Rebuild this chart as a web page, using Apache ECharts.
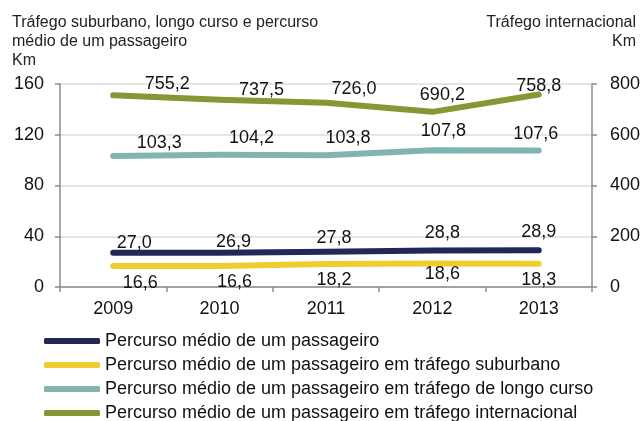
<!DOCTYPE html>
<html>
<head>
<meta charset="utf-8">
<script src="https://cdn.jsdelivr.net/npm/echarts@6/dist/echarts.min.js"></script>
<style>
  html, body { margin: 0; padding: 0; background: #fff; }
  #chart { width: 643px; height: 421px; }
</style>
</head>
<body>
<div id="chart"></div>
<script>
var anos = ['2009', '2010', '2011', '2012', '2013'];
var medio = [27.0, 26.9, 27.8, 28.8, 28.9];
var suburbano = [16.6, 16.6, 18.2, 18.6, 18.3];
var longoCurso = [103.3, 104.2, 103.8, 107.8, 107.6];
var internacional = [755.2, 737.5, 726.0, 690.2, 758.8];
var nomes = [
  'Percurso médio de um passageiro',
  'Percurso médio de um passageiro em tráfego suburbano',
  'Percurso médio de um passageiro em tráfego de longo curso',
  'Percurso médio de um passageiro em tráfego internacional'
];
var cores = ['#1f2858', '#f0cc2e', '#7fb4b3', '#8a9535'];

// deslocamento dos rótulos [dx, dy] como no original
var ajusteMedio = [[21, 5], [14, 4], [8, 1], [10, -3], [0, -4]];
var ajusteSuburbano = [[27, 3], [15, 2], [8, 2], [10, -4], [0, 2]];
var ajusteLongo = [[46, 2], [32, -2], [22, -3], [11, -5], [-3, -2]];
var ajusteInter = [[54, 3], [42, 5], [28, 1], [10, -2], [0, 6]];

var fonte = 'Liberation Sans, Arial, sans-serif';
var chart = echarts.init(document.getElementById('chart'));

function serie(i, dados, ajuste, eixo, pos) {
  return {
    name: nomes[i],
    type: 'line',
    yAxisIndex: eixo,
    data: dados,
    symbol: 'circle',
    symbolSize: 1,
    showSymbol: true,
    lineStyle: { color: cores[i], width: 6, cap: 'round', join: 'round' },
    itemStyle: { color: cores[i] },
    label: {
      show: true,
      position: pos,
      distance: 5,
      color: '#111',
      fontSize: 18,
      fontFamily: fonte,
      formatter: function (p) { return p.value.toFixed(1).replace('.', ','); }
    },
    labelLayout: function (p) {
      var a = ajuste[p.dataIndex];
      return { dx: a[0], dy: a[1], hideOverlap: false };
    }
  };
}

var eixoLinha = { show: true, lineStyle: { color: '#8c8c8c', width: 1.5 } };
var marcas = { show: true, length: 5, lineStyle: { color: '#8c8c8c', width: 1.5 } };

var option = {
  animation: false,
  graphic: [{
    type: 'text', x: 12, y: 13,
    style: {
      text: 'Tráfego suburbano, longo curso e percurso\nmédio de um passageiro\nKm',
      font: '16px ' + fonte, fill: '#222', lineHeight: 19
    }
  }, {
    type: 'text', x: 636, y: 13,
    style: {
      text: 'Tráfego internacional\nKm',
      font: '16px ' + fonte, fill: '#222', lineHeight: 19, align: 'right'
    }
  }],
  grid: { left: 60, right: 50, top: 84, bottom: 134 },
  legend: {
    orient: 'vertical',
    left: 39, top: 327,
    height: 100,
    itemWidth: 56, itemHeight: 6,
    itemGap: 6,
    icon: 'roundRect',
    textStyle: { fontSize: 18, color: '#111', fontFamily: fonte },
    data: nomes
  },
  xAxis: {
    type: 'category',
    data: anos,
    boundaryGap: true,
    axisLine: eixoLinha,
    axisTick: marcas,
    axisLabel: { fontSize: 18, color: '#111', fontFamily: fonte, margin: 13 }
  },
  yAxis: [{
    type: 'value', min: 0, max: 160, interval: 40,
    axisLine: eixoLinha,
    axisTick: marcas,
    axisLabel: { fontSize: 18, color: '#111', fontFamily: fonte, margin: 16 },
    splitLine: { lineStyle: { color: '#dcdcdc', width: 1.5 } }
  }, {
    type: 'value', min: 0, max: 800, interval: 200,
    axisLine: eixoLinha,
    axisTick: marcas,
    axisLabel: { fontSize: 18, color: '#111', fontFamily: fonte, margin: 18 },
    splitLine: { show: false }
  }],
  series: [
    serie(0, medio, ajusteMedio, 0, 'top'),
    serie(1, suburbano, ajusteSuburbano, 0, 'bottom'),
    serie(2, longoCurso, ajusteLongo, 0, 'top'),
    serie(3, internacional, ajusteInter, 1, 'top')
  ]
};

chart.setOption(option);
</script>
</body>
</html>
